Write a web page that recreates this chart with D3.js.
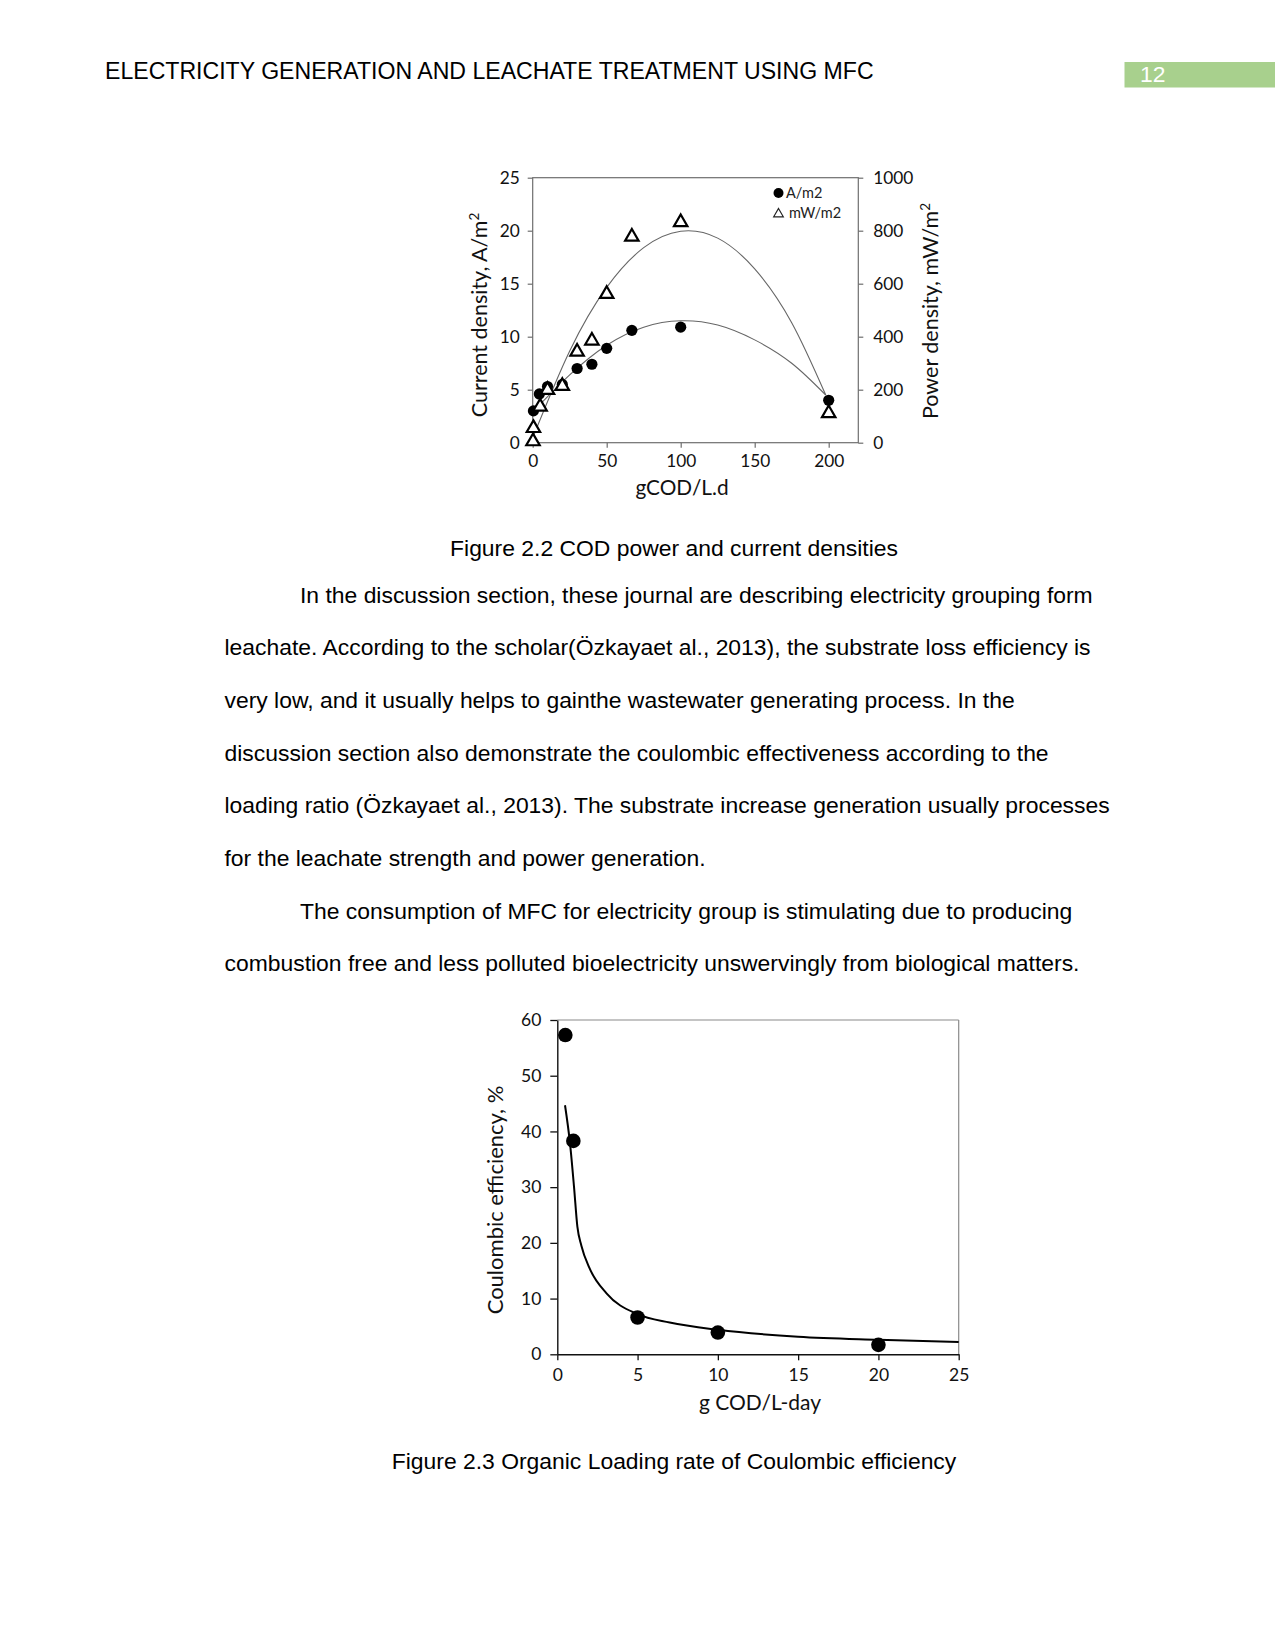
<!DOCTYPE html>
<html>
<head>
<meta charset="utf-8">
<script src="https://cdn.jsdelivr.net/npm/d3@7"></script>
<style>
  html, body { margin: 0; padding: 0; background: #fff; }
  svg { display: block; }
</style>
</head>
<body>
<script>
// ---------- Page text ----------
const headerTitle = "ELECTRICITY GENERATION AND LEACHATE TREATMENT USING MFC";
const pageNumber = "12";
const caption1 = "Figure 2.2 COD power and current densities";
const caption2 = "Figure 2.3 Organic Loading rate of Coulombic efficiency";
const bodyLines = [
  "In the discussion section, these journal are describing electricity grouping form",
  "leachate. According to the scholar(Özkayaet al., 2013), the substrate loss efficiency is",
  "very low, and it usually helps to gainthe wastewater generating process. In the",
  "discussion section also demonstrate the coulombic effectiveness according to the",
  "loading ratio (Özkayaet al., 2013). The substrate increase generation usually processes",
  "for the leachate strength and power generation.",
  "The consumption of MFC for electricity group is stimulating due to producing",
  "combustion free and less polluted bioelectricity unswervingly from biological matters."
];
const bodyIndent = [true, false, false, false, false, false, true, false];

// ---------- Chart 1 data ----------
const c1XTicks = [0, 50, 100, 150, 200];
const c1LeftTicks = [0, 5, 10, 15, 20, 25];
const c1RightTicks = [0, 200, 400, 600, 800, 1000];
const currentX = [0.5, 4.5, 10, 20, 30, 40, 50, 67, 100, 200];
const currentY = [3.0, 4.6, 5.3, 5.5, 7.0, 7.4, 8.9, 10.6, 10.9, 4.0];
const powerX = [0.2, 0.5, 5, 10, 20, 30, 40, 50, 67, 100, 200];
const powerY = [5, 55, 136, 199, 214, 343, 385, 561, 777, 832, 111];
// trendlines
const currentFitX = [0, 25, 50, 75, 100, 125, 150, 175, 198];
const currentFitY = [2.9, 6.4, 9.2, 10.9, 11.5, 11.1, 9.7, 7.5, 4.5];
const powerFitX = [0, 25, 50, 75, 100, 125, 150, 175, 198];
const powerFitY = [18, 346, 586, 736, 798, 772, 656, 453, 180];

// ---------- Chart 2 data ----------
const c2XTicks = [0, 5, 10, 15, 20, 25];
const c2YTicks = [0, 10, 20, 30, 40, 50, 60];
const ceX = [0.5, 1, 5, 10, 20];
const ceY = [57.3, 38.3, 6.6, 3.9, 1.7];
const ceFitX = [0.48, 0.79, 1.04, 1.25, 1.5, 2, 3.08, 5, 7, 10, 15, 20, 25];
const ceFitY = [44.7, 37.9, 30.1, 22.9, 19.5, 15.5, 10.9, 7.2, 5.7, 4.4, 3.15, 2.6, 2.2];

const W = 1275, H = 1651;
const svg = d3.select("body").append("svg").attr("width", W).attr("height", H);
svg.append("rect").attr("width", W).attr("height", H).attr("fill", "#fff");

const docFont = "'Liberation Sans', Arial, sans-serif";
const chartFont = "Lato, 'Open Sans', sans-serif";
const fmt = d3.format("d");

// Header
svg.append("text").attr("x", 105).attr("y", 79)
  .attr("font-family", docFont).attr("font-size", 23.1).attr("fill", "#000")
  .text(headerTitle);
svg.append("rect").attr("x", 1124.5).attr("y", 62).attr("width", W - 1124.5).attr("height", 25.5)
  .attr("fill", "#a8d08d");
svg.append("text").attr("x", 1140).attr("y", 82)
  .attr("font-family", docFont).attr("font-size", 22.9).attr("fill", "#fff")
  .text(pageNumber);

// Captions
svg.append("text").attr("x", 674).attr("y", 555.5).attr("text-anchor", "middle")
  .attr("font-family", docFont).attr("font-size", 22.9).attr("fill", "#000").text(caption1);
svg.append("text").attr("x", 674).attr("y", 1469).attr("text-anchor", "middle")
  .attr("font-family", docFont).attr("font-size", 22.9).attr("fill", "#000").text(caption2);

// Body
svg.append("g").selectAll("text").data(bodyLines).join("text")
  .attr("x", (d, i) => bodyIndent[i] ? 300 : 224.5)
  .attr("y", (d, i) => 602.7 + i * 52.64)
  .attr("font-family", docFont).attr("font-size", 22.9).attr("fill", "#000")
  .text(d => d);

// ================= Chart 1 =================
{
  const L = 532.7, R = 858.3, T = 177.7, B = 442.7;
  const x = d3.scaleLinear().domain([0, 220]).range([L, R]);
  const yL = d3.scaleLinear().domain([0, 25]).range([B, T]);
  const yR = d3.scaleLinear().domain([0, 1000]).range([B, T]);
  const g = svg.append("g").attr("font-family", chartFont);
  const axisColor = "#6e6e6e";

  g.append("rect").attr("x", L).attr("y", T).attr("width", R - L).attr("height", B - T)
    .attr("fill", "none").attr("stroke", axisColor).attr("stroke-width", 1.2);

  const styleAxis = sel => {
    sel.select(".domain").remove();
    sel.selectAll(".tick line").attr("stroke", axisColor).attr("stroke-width", 1.2);
    sel.selectAll(".tick text").attr("fill", "#111").attr("font-size", 17.3).attr("font-family", chartFont);
  };
  g.append("g").attr("transform", `translate(0,${B})`)
    .call(d3.axisBottom(x).tickValues(c1XTicks).tickFormat(fmt).tickSize(5).tickPadding(7))
    .call(styleAxis);
  g.append("g").attr("transform", `translate(${L},0)`)
    .call(d3.axisLeft(yL).tickValues(c1LeftTicks).tickFormat(fmt).tickSize(5).tickPadding(8))
    .call(styleAxis);
  g.append("g").attr("transform", `translate(${R},0)`)
    .call(d3.axisRight(yR).tickValues(c1RightTicks).tickFormat(fmt).tickSize(5).tickPadding(10))
    .call(styleAxis);

  // trendlines
  const lineC = d3.line().x(d => x(d[0])).y(d => yL(d[1])).curve(d3.curveNatural);
  const lineP = d3.line().x(d => x(d[0])).y(d => yR(d[1])).curve(d3.curveNatural);
  g.append("path").attr("d", lineC(d3.zip(currentFitX, currentFitY)))
    .attr("fill", "none").attr("stroke", "#666").attr("stroke-width", 1.1);
  g.append("path").attr("d", lineP(d3.zip(powerFitX, powerFitY)))
    .attr("fill", "none").attr("stroke", "#666").attr("stroke-width", 1.1);

  // markers
  g.append("g").selectAll("circle").data(d3.zip(currentX, currentY)).join("circle")
    .attr("cx", d => x(d[0])).attr("cy", d => yL(d[1])).attr("r", 5.6).attr("fill", "#000");
  const tri = d3.symbol().type(d3.symbolTriangle).size(78);
  g.append("g").selectAll("path").data(d3.zip(powerX, powerY)).join("path")
    .attr("d", tri).attr("transform", d => `translate(${x(d[0])},${yR(d[1])})`)
    .attr("fill", "#fff").attr("stroke", "#000").attr("stroke-width", 2.2);

  // legend
  g.append("circle").attr("cx", 778.5).attr("cy", 193).attr("r", 5).attr("fill", "#000");
  g.append("text").attr("x", 786).attr("y", 198).attr("font-size", 14.5).attr("fill", "#222").text("A/m2");
  g.append("path").attr("d", d3.symbol().type(d3.symbolTriangle).size(40))
    .attr("transform", "translate(778.5,214)").attr("fill", "#fff").attr("stroke", "#222").attr("stroke-width", 1.2);
  g.append("text").attr("x", 789).attr("y", 218).attr("font-size", 14.5).attr("fill", "#222").text("mW/m2");

  // axis titles
  g.append("text").attr("x", 682).attr("y", 495).attr("text-anchor", "middle")
    .attr("font-size", 20.8).attr("fill", "#111").text("gCOD/L.d");
  const lt = g.append("text").attr("transform", "translate(487,315) rotate(-90)")
    .attr("text-anchor", "middle").attr("font-size", 21.5).attr("fill", "#111");
  lt.append("tspan").text("Current density, A/m");
  lt.append("tspan").attr("font-size", 13.5).attr("dy", -8).text("2");
  const rt = g.append("text").attr("transform", "translate(937.5,311) rotate(-90)")
    .attr("text-anchor", "middle").attr("font-size", 21.5).attr("fill", "#111");
  rt.append("tspan").text("Power density, mW/m");
  rt.append("tspan").attr("font-size", 13.5).attr("dy", -8).text("2");
}

// ================= Chart 2 =================
{
  const L = 557.3, R = 958.7, T = 1020, B = 1354.3;
  const x = d3.scaleLinear().domain([0, 25]).range([L, R]);
  const y = d3.scaleLinear().domain([0, 60]).range([B, T]);
  const g = svg.append("g").attr("font-family", chartFont);

  // frame (top/right light)
  g.append("line").attr("x1", L).attr("x2", R).attr("y1", T).attr("y2", T).attr("stroke", "#8a8a8a").attr("stroke-width", 1.2);
  g.append("line").attr("x1", R).attr("x2", R).attr("y1", T).attr("y2", B).attr("stroke", "#8a8a8a").attr("stroke-width", 1.2);

  const styleAxis = sel => {
    sel.select(".domain").attr("stroke", "#111").attr("stroke-width", 1.4);
    sel.selectAll(".tick line").attr("stroke", "#111").attr("stroke-width", 1.3);
    sel.selectAll(".tick text").attr("fill", "#111").attr("font-size", 17.5).attr("font-family", chartFont);
  };
  g.append("g").attr("transform", `translate(0,${B})`)
    .call(d3.axisBottom(x).tickValues(c2XTicks).tickFormat(fmt).tickSize(6).tickSizeOuter(0).tickPadding(8))
    .call(styleAxis);
  g.append("g").attr("transform", `translate(${L},0)`)
    .call(d3.axisLeft(y).tickValues(c2YTicks).tickFormat(fmt).tickSize(7).tickSizeOuter(0).tickPadding(9))
    .call(styleAxis);

  const line = d3.line().x(d => x(d[0])).y(d => y(d[1])).curve(d3.curveMonotoneX);
  g.append("path").attr("d", line(d3.zip(ceFitX, ceFitY)))
    .attr("fill", "none").attr("stroke", "#000").attr("stroke-width", 2);

  g.append("g").selectAll("circle").data(d3.zip(ceX, ceY)).join("circle")
    .attr("cx", d => x(d[0])).attr("cy", d => y(d[1])).attr("r", 7.3).attr("fill", "#000");

  g.append("text").attr("x", 760).attr("y", 1410).attr("text-anchor", "middle")
    .attr("font-size", 21).attr("fill", "#111").text("g COD/L-day");
  g.append("text").attr("transform", "translate(503,1200) rotate(-90)")
    .attr("text-anchor", "middle").attr("font-size", 22).attr("fill", "#111")
    .text("Coulombic efficiency, %");
}
</script>
</body>
</html>
